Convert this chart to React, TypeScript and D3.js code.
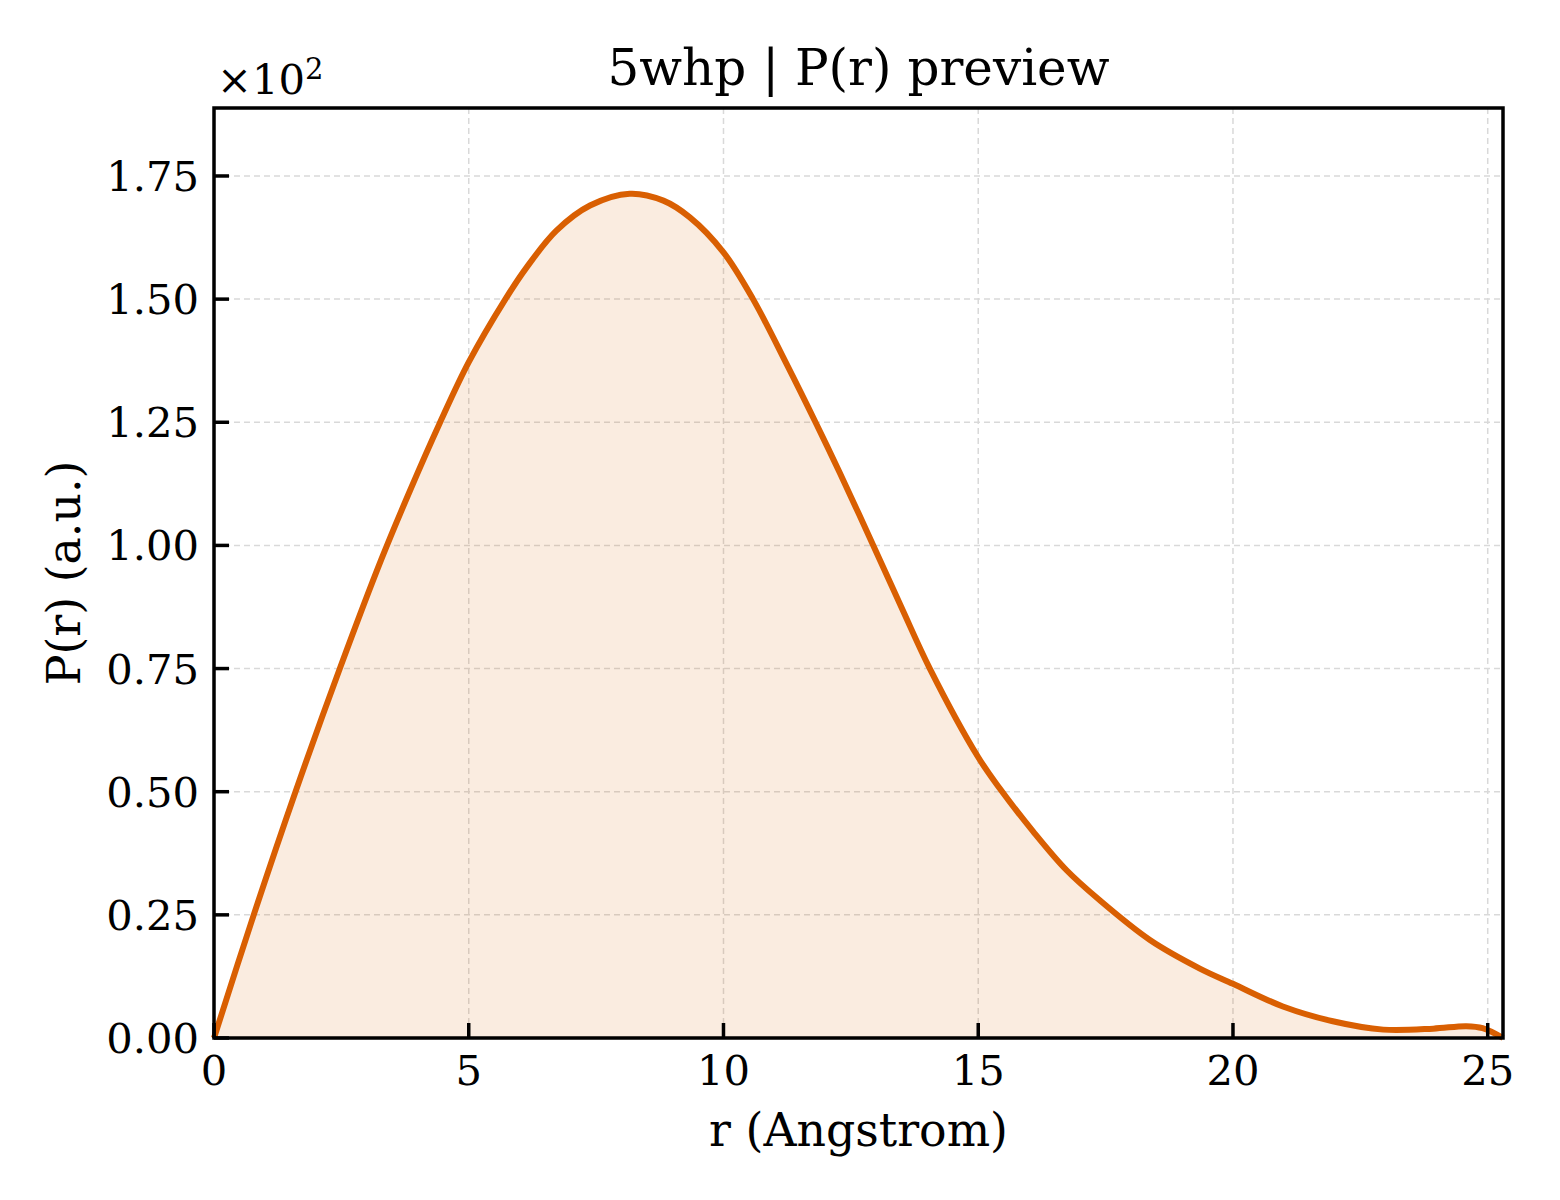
import * as d3 from 'd3';

const rValues = [0, 0.78, 1.6, 2.47, 3.29, 3.85, 4.43, 5.0, 5.72, 6.14, 6.72, 7.38, 8.16, 8.82, 9.34, 10.0, 10.58, 11.24, 11.83, 12.28, 12.94, 13.49, 14.05, 15.0, 15.42, 16.08, 16.73, 17.38, 18.37, 19.35, 20.0, 20.98, 21.96, 22.95, 23.93, 24.58, 24.9, 25.3];
const pValues = [0, 25, 50, 75, 97.3, 111.2, 124.8, 137.2, 150, 156.5, 163.9, 169.0, 171.4, 170.0, 166.6, 159.5, 150, 136.8, 124.5, 114.8, 100, 87.5, 75, 57.0, 50.7, 41.9, 34.1, 28.0, 19.9, 14.1, 11.0, 6.4, 3.4, 1.7, 1.9, 2.4, 2.0, 0];
const xTicks = [0, 5, 10, 15, 20, 25];
const yTicks = [0, 25, 50, 75, 100, 125, 150, 175];

const W = 1560;
const H = 1200;
const margin = { top: 108, right: 57, bottom: 162, left: 214 };
const FONT = '"DejaVu Serif", serif';
const LINE = '#d95f02';

export default function App() {
  const innerW = W - margin.left - margin.right;
  const innerH = H - margin.top - margin.bottom;

  const x = d3.scaleLinear().domain([0, 25.3]).range([0, innerW]);
  const y = d3.scaleLinear().domain([0, 188.8]).range([innerH, 0]);

  const pts = rValues.map((r, i) => [r, pValues[i]] as [number, number]);
  const line = d3.line<[number, number]>()
    .x(d => x(d[0]))
    .y(d => y(d[1]))
    .curve(d3.curveCatmullRom.alpha(0.5));
  const area = d3.area<[number, number]>()
    .x(d => x(d[0]))
    .y0(y(0))
    .y1(d => y(d[1]))
    .curve(d3.curveCatmullRom.alpha(0.5));

  return (
    <svg width={W} height={H} style={{ position: 'absolute', left: 0, top: 0, background: '#fff' }}>
      <text x={858.5} y={85} textAnchor="middle" fontFamily={FONT} fontSize={50} fill="#000">
        5whp | P(r) preview
      </text>
      <g transform={`translate(${margin.left},${margin.top})`}>
        {/* grid */}
        {xTicks.map(t => (
          <line key={'gx' + t} x1={x(t)} x2={x(t)} y1={0} y2={innerH}
            stroke="#d9d9d9" strokeWidth={1.5} strokeDasharray="6,4" />
        ))}
        {yTicks.map(t => (
          <line key={'gy' + t} x1={0} x2={innerW} y1={y(t)} y2={y(t)}
            stroke="#d9d9d9" strokeWidth={1.5} strokeDasharray="6,4" />
        ))}

        <path d={area(pts) || ''} fill={LINE} fillOpacity={0.12} />
        <path d={line(pts) || ''} fill="none" stroke={LINE} strokeWidth={6} strokeLinejoin="round" />

        {/* inward ticks */}
        {xTicks.map(t => (
          <g key={'tx' + t}>
            <line x1={x(t)} x2={x(t)} y1={innerH} y2={innerH - 15} stroke="#000" strokeWidth={3.5} />
            <text x={x(t)} y={innerH + 47} textAnchor="middle" fontFamily={FONT} fontSize={41.7}>
              {t}
            </text>
          </g>
        ))}
        {yTicks.map(t => (
          <g key={'ty' + t}>
            <line x1={0} x2={15} y1={y(t)} y2={y(t)} stroke="#000" strokeWidth={3.5} />
            <text x={-15} y={y(t)} dy="0.36em" textAnchor="end" fontFamily={FONT} fontSize={41.7}>
              {(t / 100).toFixed(2)}
            </text>
          </g>
        ))}

        <rect x={0} y={0} width={innerW} height={innerH} fill="none" stroke="#000" strokeWidth={3.5} />

        <text x={3} y={-14} fontFamily={FONT} fontSize={41.7}>
          ×10<tspan dy={-15} fontSize={29}>2</tspan>
        </text>

        <text x={innerW / 2} y={innerH + 108} textAnchor="middle" fontFamily={FONT} fontSize={45.8}>
          r (Angstrom)
        </text>
        <text transform={`translate(${-134},${innerH / 2}) rotate(-90)`} textAnchor="middle"
          fontFamily={FONT} fontSize={45.8}>
          P(r) (a.u.)
        </text>
      </g>
    </svg>
  );
}
